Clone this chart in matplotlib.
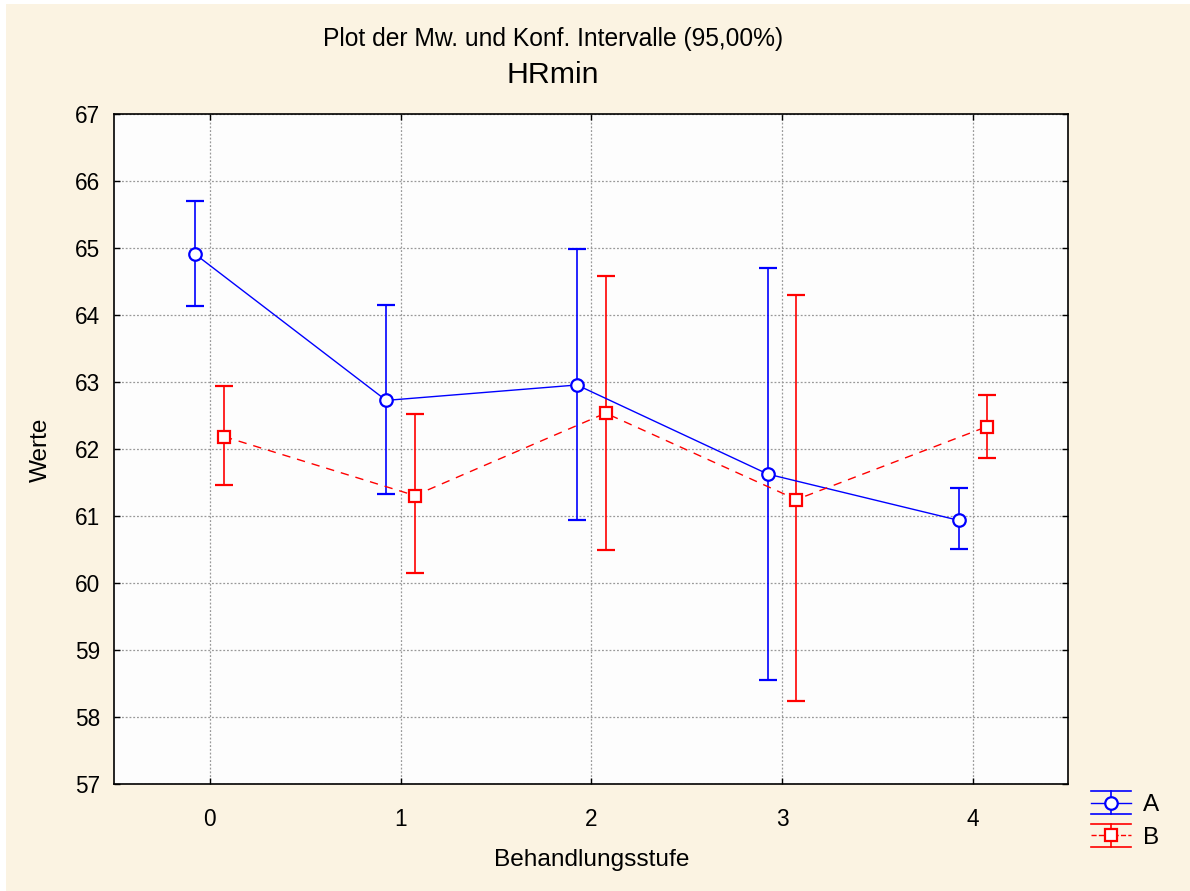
import numpy as np
import matplotlib
matplotlib.use("Agg")
import matplotlib.pyplot as plt
from matplotlib.patches import Rectangle
from matplotlib.lines import Line2D
from matplotlib.legend_handler import HandlerBase

# data
stufen = [0, 1, 2, 3, 4]
a_mean = [64.91, 62.73, 62.96, 61.63, 60.94]
a_low = [64.14, 61.33, 60.95, 58.55, 60.51]
a_high = [65.70, 64.15, 64.99, 64.70, 61.42]
b_mean = [62.19, 61.31, 62.54, 61.25, 62.34]
b_low = [61.46, 60.16, 60.50, 58.24, 61.87]
b_high = [62.94, 62.52, 64.58, 64.31, 62.81]
y_ticks = [57, 58, 59, 60, 61, 62, 63, 64, 65, 66, 67]

plt.rcParams['font.family'] = ['Liberation Sans', 'DejaVu Sans']

cream = '#fbf3e2'
fig = plt.figure(figsize=(11.9, 8.91), dpi=100, facecolor='white')
fig.patches.append(Rectangle((6 / 1190, 0), 1, 1 - 4 / 891, transform=fig.transFigure,
                             facecolor=cream, edgecolor='none', zorder=-10))

ax = fig.add_axes([114.3 / 1190, 1 - 784.3 / 891, 954 / 1190, 670 / 891])
ax.set_facecolor('#fdfdfd')

x = np.array(stufen, dtype=float)
off = 0.075


def draw(xs, mean, low, high, color, marker, ls):
    mean = np.array(mean)
    err = [mean - np.array(low), np.array(high) - mean]
    ax.errorbar(xs, mean, yerr=err, color=color, ecolor=color, elinewidth=1.2,
                capsize=6.8, capthick=1.2, marker=marker, markersize=9,
                markerfacecolor='white', markeredgecolor=color, markeredgewidth=1.6,
                linestyle=ls, linewidth=1.0, zorder=3,
                dashes=(6, 5) if ls == '--' else (None, None))


draw(x - off, a_mean, a_low, a_high, '#0000ff', 'o', '-')
draw(x + off, b_mean, b_low, b_high, '#ff0000', 's', '--')


class CIHandler(HandlerBase):
    # legend key: caps spanning the key width, bar, line and marker
    def create_artists(self, legend, orig, xdescent, ydescent, width, height,
                       fontsize, trans):
        c = orig.get_color()
        x0 = -xdescent
        x1 = x0 + width
        xm = (x0 + x1) / 2
        ym = -ydescent + height / 2
        d = 8.6
        arts = [Line2D([x0, x1], [ym + d, ym + d], color=c, lw=1.2),
                Line2D([x0, x1], [ym - d, ym - d], color=c, lw=1.2),
                Line2D([xm, xm], [ym - d, ym + d], color=c, lw=1.2),
                Line2D([x0, x1], [ym, ym], color=c, lw=1.0,
                       linestyle=orig.get_linestyle()),
                Line2D([xm], [ym], marker=orig.get_marker(), markersize=9,
                       markerfacecolor='white', markeredgecolor=c,
                       markeredgewidth=1.6, linestyle='none')]
        for a in arts:
            a.set_transform(trans)
        return arts


proxies = [Line2D([], [], color='#0000ff', marker='o', linestyle='-'),
           Line2D([], [], color='#ff0000', marker='s', linestyle=(0, (4, 4)))]

ax.set_xlim(-0.5, 4.5)
ax.set_ylim(57, 67)
ax.set_xticks(stufen)
ax.set_yticks(y_ticks)
ax.grid(True, color='#999999', linestyle=(0, (1.5, 1.5)), linewidth=0.9)
ax.set_axisbelow(True)
ax.tick_params(direction='in', length=4.5, width=1, labelsize=16.3,
               top=True, right=True, color='black')
ax.tick_params(axis='x', pad=17)
ax.tick_params(axis='y', pad=10)
for s in ax.spines.values():
    s.set_linewidth(1.2)
    s.set_color('black')

fig.text(553 / 1190, 1 - 39 / 891, 'Plot der Mw. und Konf. Intervalle (95,00%)',
         ha='center', va='center', fontsize=17.7)
fig.text(553 / 1190, 1 - 75 / 891, 'HRmin', ha='center', va='center', fontsize=21.8)
fig.text(592 / 1190, 1 - 860 / 891, 'Behandlungsstufe', ha='center', va='center',
         fontsize=17.6)
fig.text(41 / 1190, 1 - 450 / 891, 'Werte', ha='center', va='center', fontsize=17.6,
         rotation=90)

fig.legend(proxies, ['A', 'B'], handler_map={Line2D: CIHandler()},
           loc='upper left', bbox_to_anchor=(1091 / 1190, 1 - 794 / 891), frameon=False,
           fontsize=17.5, handlelength=1.65, handletextpad=0.5, labelspacing=0.45,
           borderaxespad=0, borderpad=0)

fig.savefig('out.png', dpi=100, facecolor=fig.get_facecolor())
